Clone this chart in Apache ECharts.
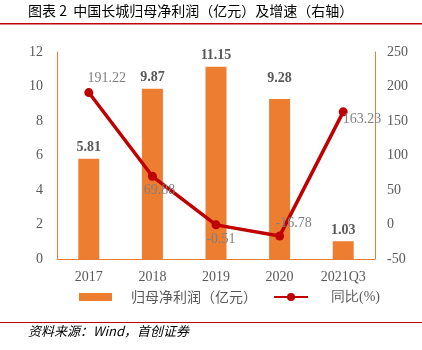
<!DOCTYPE html>
<html>
<head>
<meta charset="utf-8">
<script src="https://cdn.jsdelivr.net/npm/echarts@6/dist/echarts.min.js"></script>
<style>
html, body { margin: 0; padding: 0; background: #fff; }
#chart-container { width: 422px; height: 350px; }
</style>
</head>
<body>
<div id="chart-container"></div>
<script>
var categories = ['2017', '2018', '2019', '2020', '2021Q3'];
var profit = [5.81, 9.87, 11.15, 9.28, 1.03];
var growth = [191.22, 69.88, -0.51, -16.78, 163.23];

var dom = document.getElementById('chart-container');
var myChart = echarts.init(dom, null, { renderer: 'canvas' });

var serif = '"Liberation Serif", "Times New Roman", serif';
var cjk = '"Noto Sans CJK SC", sans-serif';
var orange = '#ED7D31';
var red = '#C00000';

// per-point label placement for the growth line
var growthLabel = [
    { position: 'top', offset: [18, 2] },
    { position: 'bottom', offset: [7, -2] },
    { position: 'bottom', offset: [5, -2] },
    { position: 'top', offset: [14, 4] },
    { position: 'right', offset: [-10, 7] }
];

var option = {
    animation: false,
    grid: { left: 57, right: 47, top: 52, bottom: 91 },
    graphic: [
        { type: 'text', left: 28, top: 4, style: { text: '图表 2  中国长城归母净利润（亿元）及增速（右轴）', font: '14px ' + cjk, fill: '#000' } },
        { type: 'rect', shape: { x: 0, y: 23, width: 422, height: 1.5 }, style: { fill: '#C00000' } },
        { type: 'rect', shape: { x: 0, y: 322, width: 422, height: 1 }, style: { fill: '#C00000' } },
        { type: 'text', left: 28, top: 325, style: { text: '资料来源：Wind，首创证券', font: 'italic 13px ' + cjk, fill: '#000' } }
    ],
    legend: [
        {
            top: 285,
            left: 74,
            itemWidth: 33,
            itemHeight: 8,
            textStyle: { fontFamily: cjk, fontSize: 14, color: '#595959', padding: [0, 0, 0, 14] },
            data: [{ name: '归母净利润（亿元）', icon: 'rect' }]
        },
        {
            top: 285,
            left: 268,
            itemWidth: 34,
            itemHeight: 10,
            textStyle: { fontFamily: serif, fontSize: 14, color: '#595959', padding: [0, 0, 0, 18] },
            data: [{ name: '同比(%)' }]
        }
    ],
    xAxis: {
        type: 'category',
        data: categories,
        axisLine: { lineStyle: { color: orange, width: 1 } },
        axisTick: { inside: true, lineStyle: { color: orange } },
        axisLabel: { fontFamily: serif, fontSize: 14, color: '#595959', margin: 11 }
    },
    yAxis: [
        {
            type: 'value', min: 0, max: 12, interval: 2,
            splitLine: { show: false },
            axisLine: { show: true, lineStyle: { color: orange } },
            axisTick: { show: false },
            axisLabel: { fontFamily: serif, fontSize: 14, color: '#595959', margin: 14 }
        },
        {
            type: 'value', min: -50, max: 250, interval: 50,
            splitLine: { show: false },
            axisLine: { show: true, lineStyle: { color: orange } },
            axisTick: { show: false },
            axisLabel: { fontFamily: serif, fontSize: 14, color: '#595959', margin: 12 }
        }
    ],
    series: [
        {
            name: '归母净利润（亿元）',
            type: 'bar',
            barWidth: 21,
            itemStyle: { color: orange },
            data: profit.map(function (v, i) {
                return i === 3 ? { value: v, label: { distance: 14 } } : v;
            }),
            label: {
                show: true, position: 'top', distance: 4,
                fontFamily: serif, fontSize: 14, fontWeight: 'bold', color: '#595959'
            }
        },
        {
            name: '同比(%)',
            type: 'line',
            yAxisIndex: 1,
            symbol: 'circle',
            symbolSize: 9,
            itemStyle: { color: red },
            lineStyle: { color: red, width: 3.5 },
            data: growth.map(function (v, i) {
                return { value: v, label: growthLabel[i] };
            }),
            label: {
                show: true,
                fontFamily: serif, fontSize: 14, color: '#7F7F7F'
            }
        }
    ]
};

myChart.setOption(option);
window.addEventListener('resize', myChart.resize);
</script>
</body>
</html>
